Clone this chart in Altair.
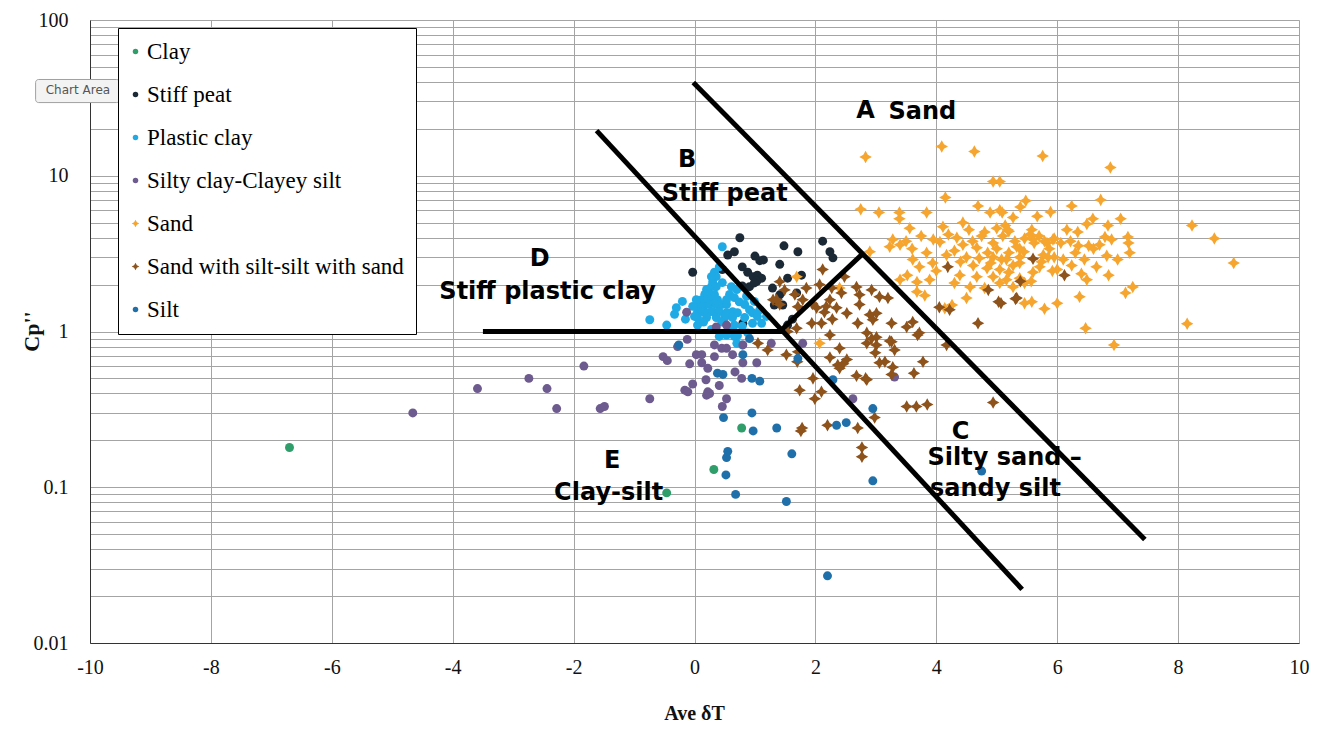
import altair as alt
import pandas as pd

categories = ["Clay", "Stiff peat", "Plastic clay", "Silty clay-Clayey silt",
              "Sand", "Sand with silt-silt with sand", "Silt"]
colors = ["#2f9e6b", "#1b2836", "#1faae6", "#6d5a8e", "#f6a52e", "#8e521b", "#1f70aa"]
STAR = "M0,-1.4L0.5,-0.5L1.4,0L0.5,0.5L0,1.4L-0.5,0.5L-1.4,0L-0.5,-0.5Z"
shapes = ["circle", "circle", "circle", "circle", STAR, STAR, "circle"]

clay = [(-6.7, 0.18), (0.78, 0.24), (0.32, 0.13), (-0.46, 0.092)]

stiff_peat = [(0.75, 4.0), (1.48, 3.55), (0.55, 3.1), (0.66, 3.25), (1.0, 3.05), (1.08, 2.85),
              (1.14, 2.88), (1.71, 3.25), (2.12, 3.8), (2.24, 3.25), (2.29, 2.97), (0.79, 2.6),
              (0.88, 2.4), (0.97, 2.25), (1.04, 2.3), (1.11, 2.2), (1.03, 2.1), (1.41, 2.7),
              (-0.03, 2.4), (0.46, 2.5), (0.79, 1.96), (0.91, 1.94), (0.99, 2.05), (1.29, 1.9),
              (1.54, 2.2), (1.77, 2.3), (1.41, 1.72), (1.69, 1.77), (1.32, 1.48), (1.46, 1.48),
              (0.8, 1.13), (0.19, 1.55), (1.62, 1.2), (1.54, 1.1)]

plastic_clay = [(0.46, 3.5), (0.33, 2.4), (0.36, 2.25), (0.3, 2.08), (0.28, 1.94), (0.36, 1.94),
                (0.2, 1.86), (0.17, 1.73), (0.25, 1.73), (0.33, 1.73), (0.12, 1.6), (0.2, 1.6),
                (0.28, 1.6), (0.38, 1.6), (0.08, 1.49), (0.15, 1.45), (0.25, 1.49), (0.36, 1.49),
                (0.45, 1.49), (0.53, 1.49), (0.58, 1.73), (0.66, 1.65), (0.53, 1.6), (0.7, 1.86),
                (0.74, 1.55), (0.83, 1.49), (0.91, 1.38), (0.05, 1.34), (0.13, 1.34), (0.22, 1.32),
                (0.3, 1.34), (0.41, 1.34), (0.53, 1.32), (0.63, 1.34), (0.71, 1.32), (0.05, 1.23),
                (0.2, 1.23), (0.36, 1.23), (0.5, 1.23), (0.63, 1.23), (0.83, 1.23), (0.96, 1.32),
                (1.04, 1.25), (1.11, 1.13), (0.96, 1.13), (0.05, 1.1), (0.66, 1.1), (-0.3, 1.42),
                (-0.33, 1.29), (-0.2, 1.56), (-0.46, 1.1), (-0.74, 1.19), (0.66, 0.93), (0.7, 0.84),
                (0.79, 0.82), (0.28, 1.03), (0.79, 1.08), (0.88, 0.98), (0.41, 0.93), (0.53, 0.95),
                (0.71, 0.94), (0.41, 2.6), (0.28, 2.25), (0.46, 2.06), (0.61, 1.94), (0.86, 1.68),
                (0.99, 1.56), (1.08, 1.38), (1.19, 1.25), (0.0, 1.25), (0.03, 1.6), (-0.03, 1.45),
                (-0.15, 1.2), (0.15, 1.15), (0.45, 1.15), (0.58, 1.05)]

silty_clay = [(-4.66, 0.3), (-3.59, 0.43), (-2.74, 0.5), (-2.44, 0.43), (-2.28, 0.32), (-1.83, 0.6),
              (-1.56, 0.32), (-1.49, 0.33), (-0.74, 0.37), (-0.52, 0.69), (-0.45, 0.65), (-0.28, 0.8),
              (-0.12, 0.89), (-0.08, 0.62), (0.03, 0.71), (0.12, 0.71), (0.12, 0.63), (-0.03, 0.46),
              (-0.16, 0.42), (-0.11, 0.41), (0.19, 0.49), (0.22, 0.58), (0.22, 0.41), (0.2, 0.39),
              (0.25, 0.4), (0.33, 0.69), (0.41, 0.45), (0.53, 0.37), (0.46, 0.33), (0.63, 0.71),
              (0.67, 0.55), (0.78, 0.5), (0.8, 0.63), (1.03, 0.63), (0.33, 0.82), (0.45, 0.78),
              (0.53, 0.78), (0.8, 0.82), (1.27, 0.84), (1.79, 0.84), (2.62, 0.37), (3.31, 0.51),
              (-0.13, 1.33), (0.36, 1.07), (0.53, 1.1)]

sand = [(2.83, 13.2), (4.09, 15.4), (4.63, 14.3), (5.76, 13.4), (6.88, 11.3), (4.94, 9.2), (5.05, 9.2),
        (4.15, 7.25), (5.48, 6.9), (5.39, 6.3), (6.24, 6.4), (6.72, 7.0), (5.89, 5.85), (5.67, 5.5),
        (5.09, 5.8), (6.59, 5.3), (7.05, 5.3), (6.84, 4.8), (6.49, 4.9), (5.14, 4.8), (5.2, 4.4),
        (5.58, 4.5), (6.16, 4.5), (6.34, 4.35), (6.79, 4.05), (7.17, 4.05), (7.18, 3.7),
        (5.3, 3.8), (5.46, 3.95), (5.62, 3.7), (5.79, 3.8), (5.95, 3.95), (6.06, 3.7), (6.22, 3.8),
        (6.35, 3.55), (6.52, 3.55), (6.6, 3.4), (5.38, 3.4), (5.87, 3.4), (6.82, 3.06), (5.77, 3.1),
        (5.85, 3.0), (5.08, 2.9), (6.0, 2.5), (5.57, 2.1), (5.46, 1.52), (5.58, 1.55), (5.79, 1.4),
        (6.0, 1.52), (6.37, 1.67), (6.49, 2.15), (6.4, 2.35), (6.24, 2.65), (5.92, 2.45), (5.71, 2.6),
        (5.38, 2.75), (6.47, 1.05), (6.94, 0.82), (7.13, 1.77), (7.25, 1.93), (8.23, 4.8), (8.6, 3.95),
        (8.92, 2.75), (8.15, 1.12), (4.69, 6.4), (5.05, 6.0), (2.75, 6.1), (3.05, 5.8), (3.39, 5.8),
        (3.84, 5.8), (3.39, 5.3), (4.11, 4.7), (4.44, 5.0), (4.89, 5.8), (5.27, 5.4), (3.56, 4.6),
        (4.54, 4.5), (4.8, 4.35), (5.18, 4.5), (3.28, 3.9), (3.23, 3.5), (3.4, 3.6), (4.06, 3.75),
        (4.34, 4.0), (4.44, 3.6), (4.67, 3.45), (4.94, 3.7), (5.33, 3.5), (5.6, 3.9), (5.83, 3.7),
        (5.93, 3.9), (3.84, 3.2), (4.17, 3.1), (4.5, 3.0), (4.71, 2.95), (4.94, 3.0), (5.16, 2.9),
        (5.38, 3.0), (5.74, 2.8), (5.95, 3.0), (2.9, 3.25), (3.61, 2.9), (3.72, 2.6), (3.94, 2.75),
        (4.61, 2.65), (4.84, 2.55), (5.05, 2.5), (5.27, 2.65), (3.52, 2.3), (3.4, 2.15), (3.68, 2.08),
        (3.89, 2.15), (4.39, 2.3), (4.67, 2.25), (4.94, 2.25), (5.16, 2.15), (5.38, 2.2), (4.56, 1.93),
        (5.05, 2.05), (5.27, 1.93), (5.46, 2.05), (3.68, 1.8), (3.81, 1.7), (4.26, 1.48), (4.14, 1.41),
        (4.5, 1.64), (2.07, 0.84), (2.4, 1.9), (1.69, 2.25), (4.2, 4.2), (4.3, 3.3), (4.6, 3.8),
        (4.75, 4.1), (4.85, 3.2), (5.0, 3.4), (5.1, 4.1), (5.2, 3.2), (5.45, 3.25), (5.55, 4.2),
        (5.7, 4.1), (5.0, 4.6), (4.4, 2.8), (4.9, 2.75), (5.2, 2.4), (5.6, 2.4), (4.0, 2.45),
        (3.95, 3.9), (3.6, 3.4), (3.75, 4.1), (3.5, 3.8), (4.3, 2.05), (4.8, 1.9), (6.1, 2.9),
        (6.3, 3.2), (6.45, 2.9), (6.7, 3.6), (6.9, 3.9), (7.0, 2.9), (6.65, 2.6), (6.85, 2.3),
        (7.2, 3.2)]

sand_silt = [(5.6, 2.93), (6.12, 2.3), (5.39, 2.1), (5.31, 1.62), (5.07, 1.52), (4.19, 2.6), (4.86, 1.85),
             (4.05, 1.43), (4.22, 1.38), (5.03, 1.55), (5.33, 1.64), (4.69, 1.13), (4.94, 0.35), (4.17, 0.82),
             (2.12, 2.5), (2.48, 2.25), (2.68, 1.93), (2.27, 1.9), (2.43, 1.77), (2.73, 1.72), (2.93, 1.85),
             (3.06, 1.67), (3.2, 1.64), (2.24, 1.6), (2.02, 1.42), (2.15, 1.33), (2.35, 1.42), (2.52, 1.31),
             (2.73, 1.49), (2.9, 1.28), (3.01, 1.31), (2.95, 1.19), (1.94, 1.13), (2.1, 1.13), (2.7, 1.13),
             (3.26, 1.13), (3.51, 1.07), (3.61, 1.15), (3.72, 0.98), (2.24, 0.95), (2.85, 0.98), (3.01, 0.92),
             (2.85, 0.84), (3.01, 0.82), (3.26, 0.86), (3.31, 0.76), (2.4, 0.78), (3.15, 0.64), (2.52, 0.66),
             (2.37, 0.61), (3.78, 0.64), (3.28, 0.59), (3.06, 0.63), (3.63, 0.54), (2.68, 0.52), (2.83, 0.5),
             (1.96, 0.5), (1.74, 0.42), (2.1, 0.41), (1.99, 0.37), (3.51, 0.33), (3.67, 0.33), (3.85, 0.34),
             (2.98, 0.28), (1.78, 0.24), (1.52, 0.71), (1.71, 0.74), (1.21, 0.76), (1.54, 1.0), (1.79, 1.6),
             (1.85, 1.9), (1.66, 1.73), (2.18, 1.45), (1.41, 1.49), (1.36, 1.6), (2.93, 0.9), (2.99, 0.73),
             (3.23, 0.87), (3.69, 0.95), (2.24, 0.68), (2.46, 0.62), (2.4, 0.58), (2.85, 0.49), (3.26, 0.53),
             (2.2, 0.25), (2.7, 0.24), (2.77, 0.18), (2.77, 0.157), (1.76, 0.23), (1.41, 2.09), (1.49, 1.85),
             (1.3, 1.6), (2.07, 2.0), (1.71, 1.44), (1.95, 1.5), (2.28, 1.2), (1.69, 1.05), (1.05, 0.84),
             (1.7, 0.64)]

silt = [(0.48, 0.28), (0.95, 0.3), (0.97, 0.23), (1.36, 0.24), (0.55, 0.17), (0.53, 0.155), (0.52, 0.12),
        (0.68, 0.09), (1.52, 0.081), (1.61, 0.164), (2.35, 0.25), (2.51, 0.26), (2.95, 0.32), (2.95, 0.11),
        (0.38, 0.54), (0.47, 0.53), (0.8, 0.71), (0.95, 0.5), (1.08, 0.48), (1.71, 0.67), (-0.26, 0.82),
        (0.91, 0.9), (4.75, 0.127), (2.2, 0.027), (2.29, 0.49)]

series = [clay, stiff_peat, plastic_clay, silty_clay, sand, sand_silt, silt]

# zone boundary lines
seg_x = [-3.5, -1.62, -0.02, 1.41]
seg_y = [1.0, 19.5, 39.7, 1.0]
seg_x2 = [1.45, 5.42, 7.45, 2.78]
seg_y2 = [1.0, 0.0221, 0.0462, 3.15]

# zone labels
labels = ["A", "Sand", "B", "Stiff peat", "D", "Stiff plastic clay", "C",
          "Silty sand \u2013", "sandy silt", "E", "Clay-silt"]
label_x = [2.83, 3.77, -0.12, 0.5, -2.56, -2.43, 4.4, 5.13, 4.98, -1.36, -1.42]
label_y = [26.2, 25.5, 12.7, 7.6, 2.94, 1.78, 0.225, 0.153, 0.098, 0.148, 0.092]

x_ticks = list(range(-10, 11, 2))
y_ticks = [round(k * 10.0 ** e, 6) for e in range(-2, 2) for k in range(1, 10)] + [100]

rows = []
for cat, pts in zip(categories, series):
    for x, y in pts:
        rows.append({"dT": x, "Cp": y, "type": cat})
df = pd.DataFrame(rows)

seg_df = pd.DataFrame({"dT": seg_x, "Cp": seg_y, "dT2": seg_x2, "Cp2": seg_y2})
lab_df = pd.DataFrame({"dT": label_x, "Cp": label_y, "label": labels})
tip_df = pd.DataFrame({"dT": [-10.9], "dT2": [-9.51], "Cp": [41.5], "Cp2": [29.5],
                       "tx": [-10.2], "ty": [35.3], "label": ["Chart Area"]})

serif = "Liberation Serif"
xscale = alt.Scale(domain=[-10, 10], nice=False, zero=False)
yscale = alt.Scale(type="log", domain=[0.01, 100], nice=False)

x_axis = alt.Axis(values=x_ticks, grid=True, gridColor="#a4a4a4", ticks=False, domainColor="#333",
                  labelFont=serif, labelFontSize=20, labelColor="#111", labelPadding=14,
                  labelExpr="'' + datum.value", labelFlush=False, labelOverlap=False,
                  title="Ave \u03b4T", titleFont=serif, titleFontSize=20, titleFontWeight="bold",
                  titleColor="#111", titleX=604, titleY=70, titleBaseline="middle")
y_axis = alt.Axis(values=y_ticks, grid=True, gridColor="#a4a4a4", ticks=False, domainColor="#333",
                  labelFont=serif, labelFontSize=20, labelColor="#111", labelPadding=22,
                  labelExpr="abs(log(datum.value)/LN10 - round(log(datum.value)/LN10)) < 0.01 ? format(datum.value, '~g') : ''",
                  labelFlush=False, labelOverlap=False,
                  title="Cp''", titleFont=serif, titleFontSize=22, titleFontWeight="bold",
                  titleColor="#111", titleX=-59, titleY=311, titleBaseline="middle")

leg = alt.Legend(orient="none", legendX=28, legendY=8, title=None, strokeColor="black",
                 fillColor="white", padding=12, labelFont=serif, labelFontSize=23,
                 labelColor="black", symbolSize=30, rowPadding=19, labelOffset=0,
                 symbolOffset=-6, labelLimit=400)

points = alt.Chart(df).mark_point(filled=True, opacity=1, size=80, strokeWidth=0).encode(
    x=alt.X("dT:Q", scale=xscale, axis=x_axis, title="Ave \u03b4T"),
    y=alt.Y("Cp:Q", scale=yscale, axis=y_axis, title="Cp''"),
    color=alt.Color("type:N", scale=alt.Scale(domain=categories, range=colors), legend=leg),
    shape=alt.Shape("type:N", scale=alt.Scale(domain=categories, range=shapes), legend=leg),
)

lines = alt.Chart(seg_df).mark_rule(strokeWidth=5, color="black").encode(
    x=alt.X("dT:Q", title="Ave \u03b4T"), y=alt.Y("Cp:Q", title="Cp''"),
    x2="dT2:Q", y2="Cp2:Q")

texts = alt.Chart(lab_df).mark_text(font="DejaVu Sans", fontWeight="bold", fontSize=24,
                                    color="black").encode(
    x=alt.X("dT:Q", title="Ave \u03b4T"), y=alt.Y("Cp:Q", title="Cp''"), text="label:N")

tip_box = alt.Chart(tip_df).mark_rect(fill="#f3f3f3", stroke="#a0a0a0", cornerRadius=3).encode(
    x=alt.X("dT:Q", title="Ave \u03b4T"), y=alt.Y("Cp:Q", title="Cp''"), x2="dT2:Q", y2="Cp2:Q")
tip_text = alt.Chart(tip_df).mark_text(font="DejaVu Sans", fontSize=12, color="#555").encode(
    x=alt.X("tx:Q", title="Ave \u03b4T"), y=alt.Y("ty:Q", title="Cp''"), text="label:N")

chart = alt.layer(points, lines, texts, tip_box, tip_text).properties(
    width=1209, height=623,
    autosize=alt.AutoSizeParams(type="none"),
    padding={"left": 82, "top": 12, "right": 15, "bottom": 80},
).configure_view(stroke="#555", strokeWidth=1.2).configure(background="white")

chart.save("out.html", embed_options={"renderer": "svg", "actions": False})
